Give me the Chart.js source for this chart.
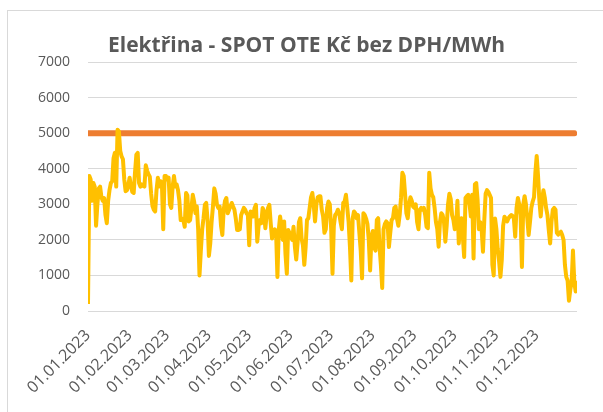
<!DOCTYPE html>
<html>
<head>
<meta charset="utf-8">
<script src="https://cdn.jsdelivr.net/npm/chart.js@4.4.1/dist/chart.umd.min.js"></script>
<style>
    html, body { margin: 0; padding: 0; background: #fff; }
    #wrap { position: relative; width: 603px; height: 412px; overflow: hidden; }
    #frame { position: absolute; left: 7px; top: 10px; width: 640px; height: 440px; border: 1px solid #d9d9d9; }
    #graph { position: absolute; left: 0; top: 0; }
</style>
</head>
<body>
<div id="wrap">
    <div id="frame"></div>
    <canvas id="graph" width="603" height="412"></canvas>
</div>
<script>
// daily spot price, Kč/MWh, one array per month of 2023
const jan = [200, 3800, 3700, 3100, 3600, 3500, 2400, 3000, 3450, 3500, 3200, 3100, 3180, 2700, 2470, 3100, 3400, 3600, 3650, 4300, 4450, 3500, 5100, 5050, 4500, 4350, 4270, 3700, 3370, 3400, 3550]
const feb = [3750, 3500, 3350, 3320, 3900, 4400, 4450, 3600, 3500, 3560, 3520, 3500, 4100, 3950, 3850, 3780, 3300, 2950, 2850, 2800, 3400, 3750, 3500, 3650, 3600, 2300, 3800, 3800]
const mar = [3700, 3750, 3000, 2900, 3500, 3800, 3500, 3560, 3400, 3100, 2560, 2600, 2560, 2370, 3320, 3250, 2520, 2560, 2900, 3270, 3080, 2750, 2940, 2300, 1000, 1700, 2300, 2610, 2990, 3040, 2560]
const apr = [1550, 1900, 2500, 2940, 3450, 3300, 2990, 2900, 2940, 2400, 2140, 2850, 3100, 3180, 2750, 2850, 2950, 3040, 2940, 2850, 2600, 2280, 2280, 2300, 2700, 2800, 2900, 2850, 2750, 2700]
const may = [1850, 2800, 2750, 2660, 2900, 2990, 1950, 2400, 2560, 2470, 2900, 2800, 2330, 2700, 2900, 2990, 2470, 2040, 2250, 2300, 2230, 960, 2280, 2660, 2400, 2000, 2520, 1600, 1050, 2280, 2200]
const jun = [2100, 2000, 2370, 1810, 1450, 1900, 2500, 2610, 2040, 1850, 1300, 1800, 2560, 2610, 2900, 3200, 3320, 2990, 2520, 3000, 3200, 3230, 3230, 2850, 2660, 2200, 2300, 2900, 3080, 3000]
const jul = [2300, 1050, 2400, 2700, 2750, 2850, 2750, 2500, 2300, 3040, 3080, 3270, 2900, 2500, 1800, 860, 2600, 2800, 2750, 2610, 2700, 2200, 1700, 920, 2750, 2700, 2600, 2450, 2000, 1140, 2090]
const aug = [2250, 1800, 1700, 2560, 2610, 1800, 1300, 650, 2300, 2450, 2520, 2470, 1800, 2200, 2560, 2610, 2900, 2940, 2600, 2400, 2700, 3180, 3890, 3800, 3300, 2750, 2610, 3000, 3200, 3100, 2940]
const sep = [2900, 3000, 2500, 2300, 2850, 2900, 2850, 2900, 2700, 2370, 2330, 3890, 3450, 3270, 3200, 2900, 2500, 2300, 1810, 2500, 2750, 2700, 2500, 1950, 2400, 3000, 3300, 3150, 2700, 2560]
const oct = [2300, 2400, 3100, 1900, 2500, 2610, 2100, 1520, 3180, 3230, 3270, 3000, 2660, 3270, 1480, 3560, 3600, 3130, 2300, 2500, 2300, 1670, 2560, 3300, 3400, 3350, 3270, 3180, 1300, 1000, 2600]
const nov = [2300, 1750, 1400, 960, 1430, 2400, 2650, 2600, 2520, 2610, 2660, 2700, 2680, 2600, 2090, 2900, 3180, 3000, 2700, 1240, 3000, 3230, 3000, 2600, 2140, 2500, 2900, 3080, 3200, 3890]
const dec = [4360, 3800, 3100, 2660, 3130, 3400, 3200, 2900, 2700, 2280, 1900, 2500, 2850, 2900, 2850, 2200, 2150, 2200, 2230, 2140, 2000, 1300, 960, 860, 290, 600, 800, 1700, 800, 550, 850]

// limit line
const limitValue = 5000
const limitDays = [0, 362]

// x axis: day index of the 1st of each month and its label
const monthStarts = [0, 31, 59, 90, 120, 151, 181, 212, 243, 273, 304, 334]
const monthLabels = ['01.01.2023', '01.02.2023', '01.03.2023', '01.04.2023', '01.05.2023', '01.06.2023',
    '01.07.2023', '01.08.2023', '01.09.2023', '01.10.2023', '01.11.2023', '01.12.2023']

const yTicks = [0, 1000, 2000, 3000, 4000, 5000, 6000, 7000]

let prices = [].concat(jan, feb, mar, apr, may, jun, jul, aug, sep, oct, nov, dec)
let pricePoints = prices.map((v, i) => ({ x: i, y: v }))
let limitPoints = limitDays.map(d => ({ x: d, y: limitValue }))

const textColor = '#595959'
const font = "'Open Sans', 'Liberation Sans', sans-serif"

let graph = new Chart(document.getElementById('graph'), {
    type: 'line',
    data: {
        datasets: [
            {
                label: 'Elektřina',
                data: pricePoints,
                borderColor: '#FFC000',
                borderWidth: 4,
                pointRadius: 0,
                tension: 0,
                borderJoinStyle: 'round'
            },
            {
                label: 'Limit',
                data: limitPoints,
                borderColor: '#ED7D31',
                borderWidth: 6,
                pointRadius: 0,
                borderCapStyle: 'round'
            }
        ]
    },
    options: {
        responsive: false,
        animation: false,
        layout: { padding: { left: 36, right: 26, top: 0, bottom: 0 } },
        plugins: {
            legend: { display: false },
            tooltip: { enabled: false },
            title: {
                display: true,
                text: 'Elektřina - SPOT OTE Kč bez DPH/MWh',
                color: textColor,
                font: { family: font, size: 21, weight: 'bold' },
                padding: { top: 33, bottom: 4 }
            }
        },
        scales: {
            x: {
                type: 'linear',
                min: 0,
                max: 364,
                afterBuildTicks: (scale) => {
                    scale.ticks = monthStarts.map(v => ({ value: v }))
                },
                afterFit: (scale) => { scale.height = 101 },
                grid: { display: false },
                border: { display: false },
                ticks: {
                    autoSkip: false,
                    minRotation: 45,
                    maxRotation: 45,
                    padding: 7,
                    color: textColor,
                    font: { family: font, size: 16 },
                    callback: (v) => monthLabels[monthStarts.indexOf(v)]
                }
            },
            y: {
                min: 0,
                max: 7000,
                afterBuildTicks: (scale) => {
                    scale.ticks = yTicks.map(v => ({ value: v }))
                },
                afterFit: (scale) => { scale.width = 52 },
                grid: { color: '#d9d9d9', lineWidth: 1, drawTicks: false },
                border: { display: false },
                ticks: {
                    padding: 18,
                    color: textColor,
                    font: { family: font, size: 14 },
                    callback: (v) => String(v)
                }
            }
        }
    }
});
</script>
</body>
</html>
